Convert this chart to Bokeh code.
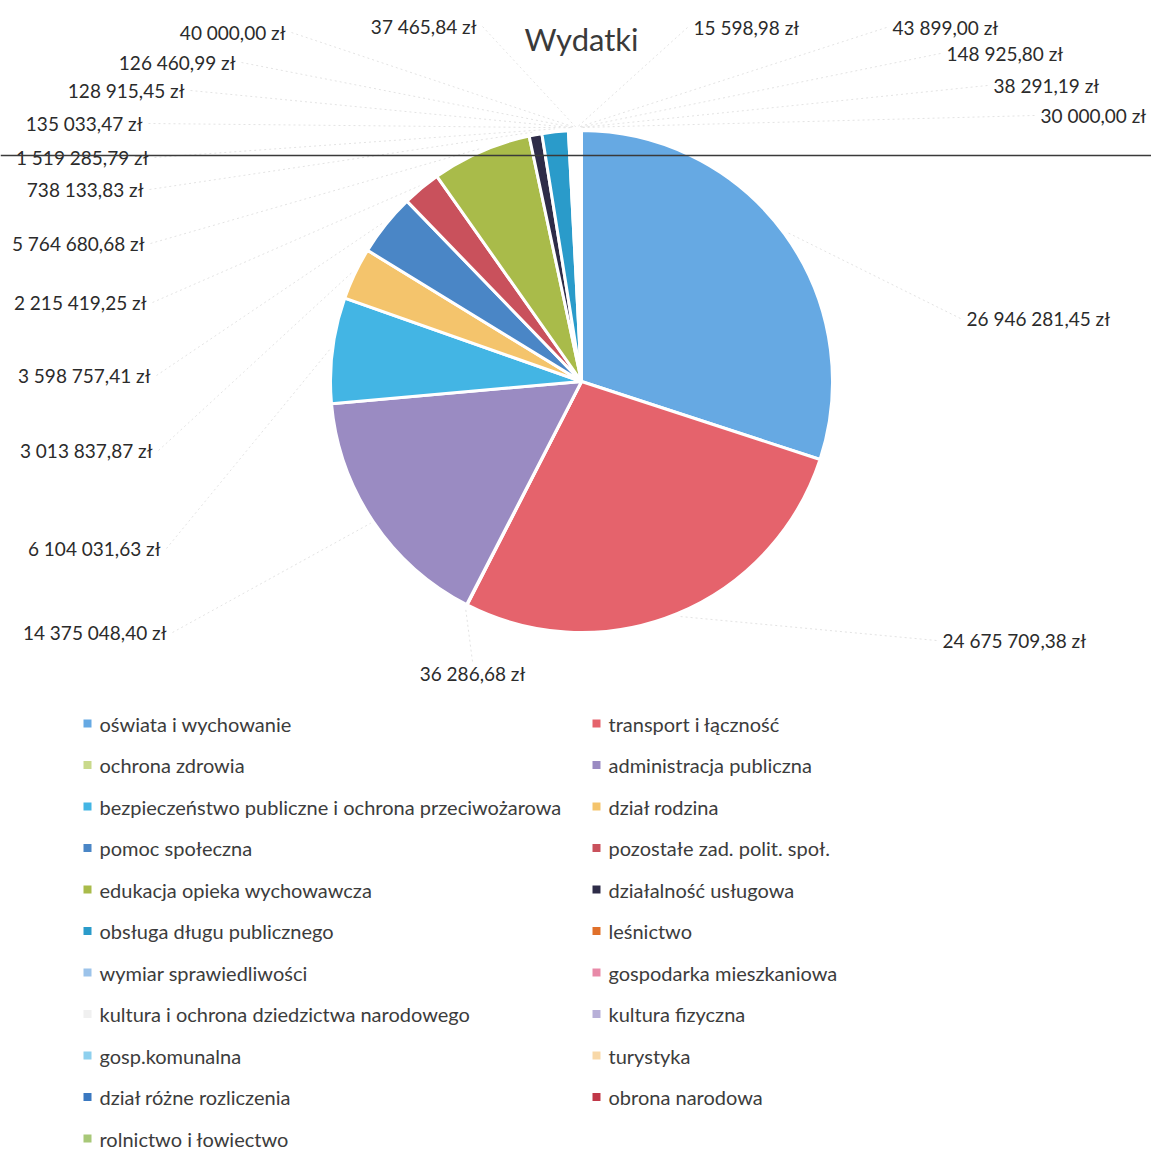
import math
from bokeh.plotting import figure
from bokeh.models import Range1d, ColumnDataSource, Span
from bokeh.core.properties import value
from bokeh.embed import file_html
from bokeh.resources import INLINE

# ---------------- data ----------------
title = "Wydatki"
categories = [
    "oświata i wychowanie", "transport i łączność",
    "ochrona zdrowia", "administracja publiczna",
    "bezpieczeństwo publiczne i ochrona przeciwożarowa", "dział rodzina",
    "pomoc społeczna", "pozostałe zad. polit. społ.",
    "edukacja opieka wychowawcza", "działalność usługowa",
    "obsługa długu publicznego", "leśnictwo",
    "wymiar sprawiedliwości", "gospodarka mieszkaniowa",
    "kultura i ochrona dziedzictwa narodowego", "kultura fizyczna",
    "gosp.komunalna", "turystyka",
    "dział różne rozliczenia", "obrona narodowa",
    "rolnictwo i łowiectwo",
]
values = [
    26946281.45, 24675709.38,
    36286.68, 14375048.40,
    6104031.63, 3013837.87,
    3598757.41, 2215419.25,
    5764680.68, 738133.83,
    1519285.79, 135033.47,
    128915.45, 126460.99,
    40000.00, 37465.84,
    15598.98, 43899.00,
    148925.80, 38291.19,
    30000.00,
]
colors = [
    "#66a9e3", "#e5636c",
    "#c9d98b", "#9a8bc2",
    "#43b5e4", "#f4c46c",
    "#4a86c6", "#c9515c",
    "#a9bb4a", "#2e2c48",
    "#2a9bca", "#e0702a",
    "#9cc3ea", "#e88aa8",
    "#f0f0f0", "#b8b0d8",
    "#8ed0ee", "#f8d8a8",
    "#3a78c0", "#c03848",
    "#a8c878",
]

# ---------------- layout (pixel positions of the data labels) ----------------
label_x = [966, 942, 472, 166, 160, 152, 150, 146, 144, 143, 148,
           142, 184, 235, 285, 476, 693, 892, 946, 993, 1040]
label_y = [318, 640, 673, 632, 548, 450, 375, 302, 243, 189, 157,
           123, 90, 62, 32, 26, 27, 27, 53, 85, 115]
label_align = ["left", "left", "center"] + ["right"] * 13 + ["left"] * 5

W, H = 1151, 1153
CX, CY, R = 581, 381, 251


def fmt(v):
    s = f"{v:,.2f}".replace(",", " ").replace(".", ",")
    return s + " zł"


p = figure(width=W, height=H, x_range=Range1d(0, W),
           y_range=Range1d(-H, 0), output_backend="svg",
           toolbar_location=None, x_axis_type=None, y_axis_type=None,
           min_border=0)
p.outline_line_color = None
p.background_fill_color = "white"
p.border_fill_color = "white"

# scan line artefact
p.add_layout(Span(location=-155, dimension="width", line_color="#3a3a3a",
                  line_width=1.5))

# ---------------- pie ----------------
total = sum(values)
starts, ends, mids = [], [], []
cum = 0.0
for v in values:
    a0 = cum / total * 2 * math.pi
    cum += v
    a1 = cum / total * 2 * math.pi
    starts.append(math.pi / 2 - a0)
    ends.append(math.pi / 2 - a1)
    mids.append((a0 + a1) / 2)

src = ColumnDataSource(dict(start=starts, end=ends, color=colors,
                            cat=categories, val=values))
p.wedge(x=CX, y=-CY, radius=R, start_angle="start", end_angle="end",
        direction="clock", fill_color="color", line_color="white",
        line_width=3, source=src)

# ---------------- leader lines ----------------
lx0, ly0, lx1, ly1 = [], [], [], []
for i, m in enumerate(mids):
    ex = CX + (R + 3) * math.sin(m)
    ey = CY - (R + 3) * math.cos(m)
    if label_align[i] == "right":
        sx, sy = label_x[i] + 6, label_y[i]
    elif label_align[i] == "left":
        sx, sy = label_x[i] - 6, label_y[i]
    else:
        sx, sy = label_x[i], label_y[i] - 12
    lx0.append(sx); ly0.append(-sy); lx1.append(ex); ly1.append(-ey)
p.segment(x0=lx0, y0=ly0, x1=lx1, y1=ly1, line_color="#e3e3e3",
          line_width=1, line_dash="2 3")

# ---------------- data labels ----------------
for i, v in enumerate(values):
    p.text(x=[label_x[i]], y=[-label_y[i]], text=[fmt(v)],
           text_align=label_align[i], text_baseline="middle",
           text_font=value("Lato"), text_font_size="19px",
           text_color="#2b2b2b")

# ---------------- title ----------------
p.text(x=[581], y=[-38], text=[title], text_align="center",
       text_baseline="middle", text_font=value("Lato"),
       text_font_size="31px", text_color="#3a3a3a")

# ---------------- legend (2 columns) ----------------
col_marker_x = [87, 596]
col_text_x = [99, 608]
row_y0, row_dy = 723, 41.5
mx, my, tx, ty = [], [], [], []
for i, c in enumerate(categories):
    col, row = i % 2, i // 2
    yy = row_y0 + row * row_dy
    mx.append(col_marker_x[col]); my.append(-yy)
    tx.append(col_text_x[col]); ty.append(-yy)
p.scatter(x=mx, y=my, marker="square", size=8, fill_color=colors,
          line_color=None)
p.text(x=tx, y=ty, text=categories, text_align="left",
       text_baseline="middle", text_font=value("Lato"),
       text_font_size="20px", text_color="#3c3c3c")

open("out.html", "w").write(file_html(p, INLINE))
